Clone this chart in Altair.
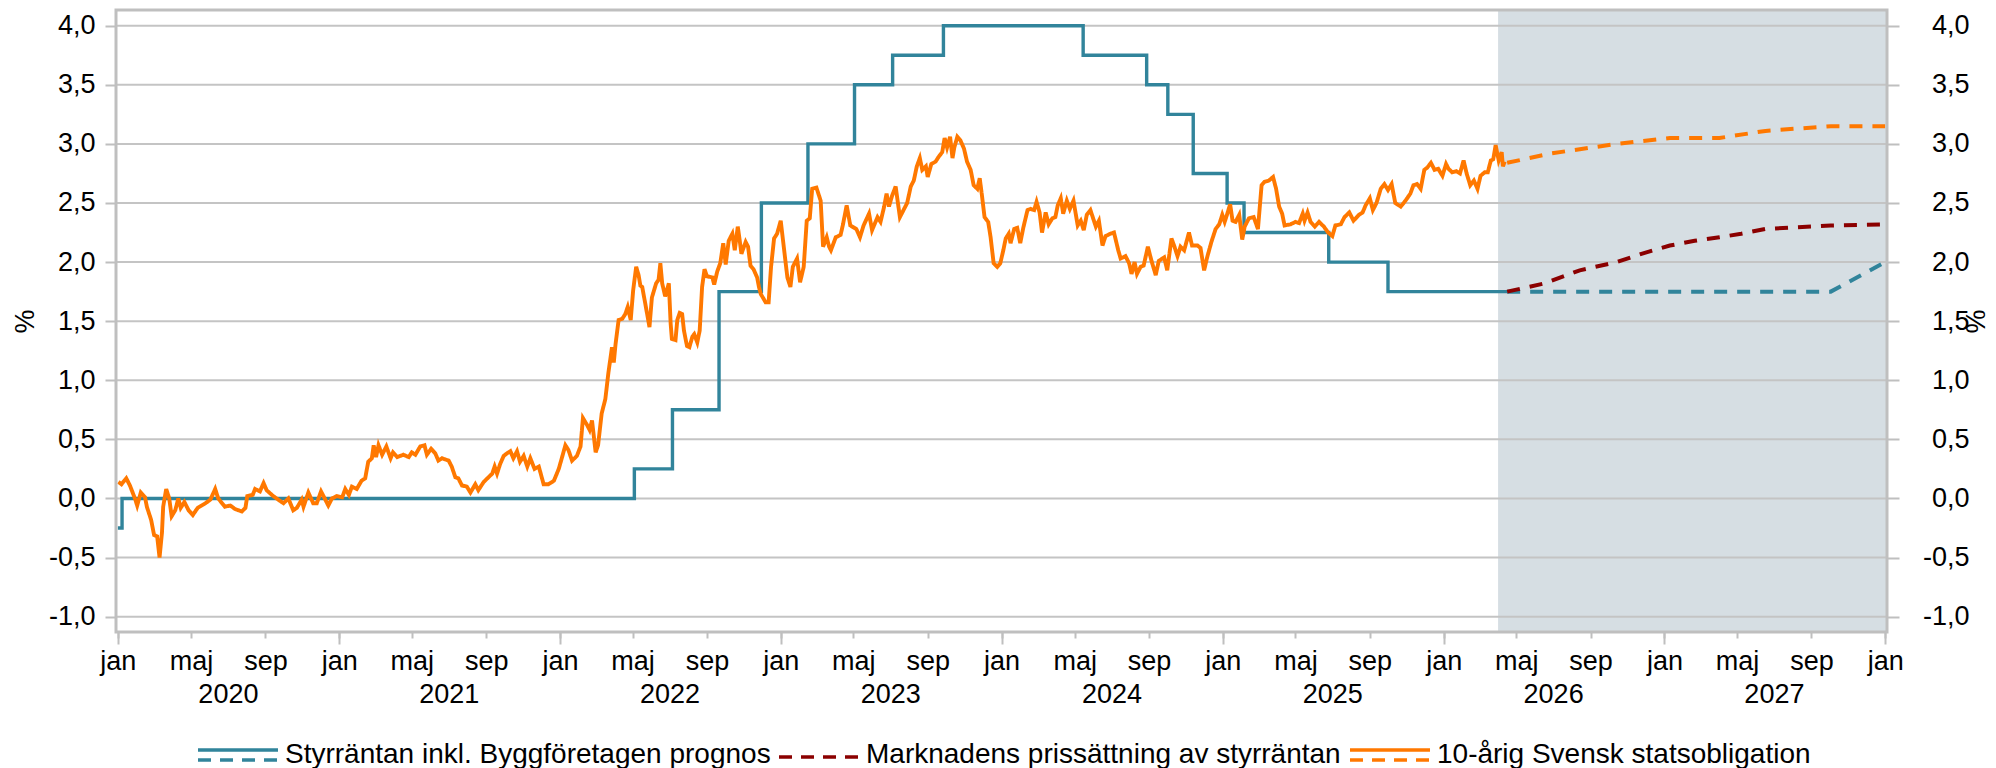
import altair as alt
import pandas as pd

FONT = "Liberation Sans"
FS = 27
LEG_FS = 28
SERIES = ["Styrräntan inkl. Byggföretagen prognos",
          "Marknadens prissättning av styrräntan",
          "10-årig Svensk statsobligation"]
COLORS = ["#31849B", "#8B0000", "#FF7800"]

# Styrränta (historik, trappsteg)
policy_dates = ["2020-01-01", "2020-01-08", "2022-05-04", "2022-07-06", "2022-09-21",
                "2022-11-30", "2023-02-15", "2023-05-03", "2023-07-05", "2023-09-27",
                "2024-05-15", "2024-08-28", "2024-10-02", "2024-11-13", "2025-01-08",
                "2025-02-05", "2025-06-25", "2025-10-01", "2026-04-16"]
policy_values = [-0.25, 0.0, 0.25, 0.75, 1.75, 2.5, 3.0, 3.5, 3.75, 4.0,
                 3.75, 3.5, 3.25, 2.75, 2.5, 2.25, 2.0, 1.75, 1.75]

# 10-årig statsobligation (decimalår, %)
bond_t = [
    2020.004, 2020.019, 2020.039, 2020.057, 2020.080, 2020.090, 2020.105, 2020.125, 2020.133, 2020.151,
    2020.166, 2020.178, 2020.190, 2020.201, 2020.208, 2020.220, 2020.235, 2020.246, 2020.261, 2020.276,
    2020.287, 2020.302, 2020.321, 2020.341, 2020.362, 2020.397, 2020.419, 2020.442, 2020.457, 2020.487,
    2020.510, 2020.533, 2020.563, 2020.578, 2020.588, 2020.613, 2020.623, 2020.646, 2020.661, 2020.676,
    2020.706, 2020.736, 2020.751, 2020.774, 2020.794, 2020.812, 2020.835, 2020.842, 2020.865, 2020.887,
    2020.903, 2020.921, 2020.940, 2020.955, 2020.971, 2020.993,
    2021.016, 2021.031, 2021.046, 2021.061, 2021.084, 2021.106, 2021.121, 2021.136, 2021.152, 2021.159,
    2021.171, 2021.182, 2021.197, 2021.216, 2021.235, 2021.247, 2021.265, 2021.295, 2021.317, 2021.333,
    2021.348, 2021.370, 2021.389, 2021.401, 2021.419, 2021.438, 2021.453, 2021.469, 2021.499, 2021.514,
    2021.529, 2021.544, 2021.559, 2021.582, 2021.597, 2021.620, 2021.634, 2021.657, 2021.680, 2021.695,
    2021.706, 2021.718, 2021.733, 2021.748, 2021.763, 2021.778, 2021.793, 2021.808, 2021.823, 2021.838,
    2021.854, 2021.869, 2021.887, 2021.906, 2021.929, 2021.952, 2021.974, 2021.997,
    2022.012, 2022.027, 2022.042, 2022.058, 2022.080, 2022.095, 2022.107, 2022.125, 2022.137, 2022.148,
    2022.163, 2022.175, 2022.193, 2022.208, 2022.223, 2022.239, 2022.246, 2022.254, 2022.269, 2022.284,
    2022.299, 2022.309, 2022.322, 2022.334, 2022.349, 2022.359, 2022.367, 2022.374, 2022.389, 2022.409,
    2022.420, 2022.439, 2022.450, 2022.457, 2022.465, 2022.480, 2022.495, 2022.503, 2022.510, 2022.525,
    2022.533, 2022.545, 2022.556, 2022.563, 2022.578, 2022.590, 2022.601, 2022.611, 2022.624, 2022.635,
    2022.646, 2022.657, 2022.669, 2022.692, 2022.702, 2022.714, 2022.729, 2022.741, 2022.752, 2022.767,
    2022.782, 2022.793, 2022.808, 2022.817, 2022.823, 2022.842, 2022.853, 2022.865, 2022.880, 2022.895,
    2022.903, 2022.913, 2022.933, 2022.948, 2022.959, 2022.971, 2022.986,
    2023.001, 2023.016, 2023.031, 2023.046, 2023.058, 2023.076, 2023.091, 2023.107, 2023.119, 2023.134,
    2023.144, 2023.164, 2023.182, 2023.194, 2023.209, 2023.220, 2023.230, 2023.250, 2023.273, 2023.285,
    2023.300, 2023.318, 2023.345, 2023.360, 2023.378, 2023.401, 2023.416, 2023.439, 2023.454, 2023.469,
    2023.481, 2023.491, 2023.507, 2023.522, 2023.541, 2023.559, 2023.575, 2023.590, 2023.605, 2023.617,
    2023.632, 2023.643, 2023.658, 2023.668, 2023.683, 2023.703, 2023.718, 2023.733, 2023.744, 2023.756,
    2023.768, 2023.779, 2023.789, 2023.801, 2023.816, 2023.831, 2023.846, 2023.861, 2023.876, 2023.892,
    2023.904, 2023.914, 2023.925, 2023.940, 2023.952, 2023.967, 2023.982, 2023.997,
    2024.009, 2024.020, 2024.035, 2024.043, 2024.058, 2024.073, 2024.085, 2024.100, 2024.118, 2024.133,
    2024.148, 2024.160, 2024.175, 2024.186, 2024.201, 2024.216, 2024.231, 2024.246, 2024.257, 2024.269,
    2024.281, 2024.296, 2024.311, 2024.327, 2024.345, 2024.360, 2024.375, 2024.387, 2024.405, 2024.428,
    2024.443, 2024.458, 2024.473, 2024.495, 2024.511, 2024.529, 2024.541, 2024.563, 2024.578, 2024.589,
    2024.604, 2024.616, 2024.631, 2024.646, 2024.664, 2024.680, 2024.699, 2024.714, 2024.737, 2024.752,
    2024.770, 2024.785, 2024.798, 2024.812, 2024.827, 2024.850, 2024.865, 2024.888, 2024.903, 2024.918,
    2024.933, 2024.951, 2024.971, 2024.986,
    2025.001, 2025.012, 2025.024, 2025.036, 2025.047, 2025.062, 2025.077, 2025.092, 2025.102, 2025.122,
    2025.144, 2025.163, 2025.178, 2025.193, 2025.212, 2025.232, 2025.243, 2025.258, 2025.273, 2025.284,
    2025.311, 2025.333, 2025.348, 2025.364, 2025.374, 2025.386, 2025.401, 2025.419, 2025.439, 2025.462,
    2025.480, 2025.500, 2025.514, 2025.537, 2025.555, 2025.575, 2025.595, 2025.620, 2025.635, 2025.650,
    2025.670, 2025.682, 2025.699, 2025.718, 2025.734, 2025.750, 2025.767, 2025.783, 2025.807, 2025.831,
    2025.851, 2025.867, 2025.883, 2025.900, 2025.916, 2025.928, 2025.945, 2025.961, 2025.977, 2025.996,
    2026.013, 2026.026, 2026.042, 2026.061, 2026.077, 2026.094, 2026.106, 2026.122, 2026.139, 2026.155,
    2026.171, 2026.188, 2026.203, 2026.216, 2026.228, 2026.239, 2026.252, 2026.265, 2026.271, 2026.278,
]
bond_v = [
    0.14, 0.12, 0.17, 0.11, -0.01, -0.06, 0.05, 0.01, -0.07, -0.18,
    -0.31, -0.32, -0.50, -0.29, -0.07, 0.08, 0.00, -0.15, -0.10, 0.00,
    -0.08, -0.03, -0.10, -0.14, -0.08, -0.04, -0.01, 0.08, 0.00, -0.07,
    -0.06, -0.09, -0.11, -0.08, 0.02, 0.03, 0.08, 0.06, 0.13, 0.07,
    0.02, -0.02, -0.04, 0.00, -0.10, -0.08, -0.01, -0.07, 0.05, -0.04,
    -0.04, 0.06, -0.01, -0.06, 0.00, 0.02,
    0.01, 0.08, 0.03, 0.10, 0.08, 0.15, 0.17, 0.31, 0.34, 0.45,
    0.35, 0.45, 0.37, 0.44, 0.34, 0.39, 0.35, 0.37, 0.35, 0.39,
    0.37, 0.44, 0.45, 0.37, 0.42, 0.38, 0.32, 0.34, 0.32, 0.27,
    0.18, 0.17, 0.11, 0.10, 0.05, 0.12, 0.07, 0.14, 0.18, 0.21,
    0.27, 0.21, 0.29, 0.36, 0.38, 0.40, 0.34, 0.40, 0.31, 0.36,
    0.27, 0.34, 0.25, 0.27, 0.12, 0.12, 0.15, 0.25,
    0.34, 0.45, 0.41, 0.32, 0.36, 0.44, 0.68, 0.62, 0.58, 0.66,
    0.39, 0.45, 0.72, 0.84, 1.06, 1.28, 1.15, 1.31, 1.51, 1.52,
    1.56, 1.62, 1.51, 1.76, 1.96, 1.89, 1.80, 1.79, 1.65, 1.45,
    1.70, 1.82, 1.85, 1.99, 1.82, 1.71, 1.82, 1.48, 1.35, 1.34,
    1.51, 1.57, 1.56, 1.42, 1.29, 1.28, 1.37, 1.39, 1.32, 1.42,
    1.79, 1.94, 1.88, 1.87, 1.81, 1.92, 1.99, 2.16, 1.98, 2.18,
    2.24, 2.10, 2.30, 2.19, 2.07, 2.17, 2.13, 1.97, 1.94, 1.87,
    1.79, 1.73, 1.66, 1.66, 1.96, 2.20, 2.24,
    2.35, 2.13, 1.87, 1.79, 1.96, 2.03, 1.83, 1.96, 2.35, 2.37,
    2.62, 2.63, 2.52, 2.13, 2.21, 2.13, 2.10, 2.21, 2.23, 2.32,
    2.48, 2.31, 2.28, 2.21, 2.31, 2.41, 2.27, 2.38, 2.34, 2.47,
    2.58, 2.47, 2.56, 2.64, 2.38, 2.44, 2.50, 2.64, 2.69, 2.81,
    2.88, 2.78, 2.81, 2.72, 2.83, 2.85, 2.89, 2.93, 3.05, 2.97,
    3.06, 2.88, 2.97, 3.06, 3.03, 2.96, 2.85, 2.78, 2.65, 2.62,
    2.71, 2.55, 2.38, 2.34, 2.21, 1.99, 1.96, 1.99,
    2.10, 2.20, 2.24, 2.16, 2.28, 2.29, 2.16, 2.29, 2.44, 2.45,
    2.44, 2.51, 2.42, 2.25, 2.42, 2.32, 2.37, 2.38, 2.48, 2.54,
    2.41, 2.52, 2.45, 2.52, 2.31, 2.35, 2.27, 2.40, 2.44, 2.30,
    2.35, 2.14, 2.22, 2.24, 2.25, 2.10, 2.03, 2.05, 1.99, 1.90,
    2.00, 1.90, 1.96, 1.97, 2.13, 2.01, 1.89, 2.01, 2.04, 1.93,
    2.20, 2.13, 2.05, 2.13, 2.10, 2.25, 2.14, 2.14, 2.12, 1.93,
    2.04, 2.17, 2.28, 2.32,
    2.40, 2.34, 2.42, 2.49, 2.35, 2.34, 2.40, 2.19, 2.30, 2.37,
    2.38, 2.28, 2.65, 2.68, 2.69, 2.72, 2.62, 2.47, 2.41, 2.31,
    2.32, 2.34, 2.33, 2.41, 2.35, 2.42, 2.34, 2.30, 2.34, 2.30,
    2.25, 2.22, 2.31, 2.32, 2.38, 2.42, 2.35, 2.40, 2.42, 2.48,
    2.54, 2.44, 2.50, 2.62, 2.66, 2.61, 2.66, 2.50, 2.47, 2.52,
    2.58, 2.65, 2.66, 2.62, 2.78, 2.80, 2.84, 2.78, 2.79, 2.73,
    2.83, 2.79, 2.76, 2.77, 2.75, 2.86, 2.75, 2.65, 2.69, 2.62,
    2.73, 2.76, 2.76, 2.86, 2.87, 2.99, 2.86, 2.93, 2.81, 2.85,
]
assert len(bond_t) == len(bond_v)

# Prognoser (decimalår, %)
fc_policy_t = [2026.29, 2027.755, 2028.0]
fc_policy_v = [1.75, 1.75, 2.00]
fc_market_t = [2026.29, 2026.46, 2026.62, 2026.785, 2026.898, 2027.026, 2027.14, 2027.252,
               2027.35, 2027.46, 2027.755, 2028.0]
fc_market_v = [1.75, 1.82, 1.93, 2.00, 2.07, 2.14, 2.18, 2.21, 2.24, 2.28, 2.31, 2.32]
fc_bond_t = [2026.29, 2026.49, 2026.785, 2027.026, 2027.252, 2027.46, 2027.755, 2028.0]
fc_bond_v = [2.84, 2.92, 3.00, 3.05, 3.05, 3.11, 3.15, 3.15]

y_ticks = [-1.0, -0.5, 0.0, 0.5, 1.0, 1.5, 2.0, 2.5, 3.0, 3.5, 4.0]
Y_MIN, Y_MAX = -1.13, 4.133
X_START, X_END = "2019-12-29", "2028-01-04"
shade_start, shade_end = "2026-04-01", X_END
month_ticks = [f"{y}-{m:02d}-01" for y in range(2020, 2028) for m in (1, 5, 9)] + ["2028-01-01"]
jan_ticks = [f"{y}-01-01" for y in range(2020, 2029)]
year_label_pos = [f"{y}-07-01" for y in range(2020, 2028)]


def ymd(t):
    return (pd.Timestamp("2020-01-01") + pd.Timedelta(days=(t - 2020.0) * 365.25)).strftime("%Y-%m-%d")


def dt(s):
    y, m, d = (int(p) for p in s.split("-"))
    return alt.DateTime(year=y, month=m, date=d, utc=True)


GRAY = "#BFBFBF"
xscale = alt.Scale(type="utc", domain=[dt(X_START), dt(X_END)])
yscale = alt.Scale(domain=[Y_MIN, Y_MAX], nice=False, zero=False)

BOTH = "M-1,-0.125H1M-1,0.125H-0.675M-0.45,0.125H-0.125M0.1,0.125H0.425M0.65,0.125H0.975"
DASHED = "M-1,0.05H-0.675M-0.45,0.05H-0.125M0.1,0.05H0.425M0.65,0.05H0.975"
LEG_Y = 703


def make_legend(x, shape, stroke_color):
    return alt.Legend(
        title=None, orient="none", legendX=x, legendY=LEG_Y, direction="horizontal",
        labelFont=FONT, labelFontSize=LEG_FS, labelColor="black", labelLimit=0,
        labelOffset=5, symbolSize=6400, symbolStrokeWidth=3.5, symbolType=shape,
        symbolStrokeColor=stroke_color, symbolFillColor="transparent",
    )


label_common = dict(labelFont=FONT, labelFontSize=FS, labelColor="black",
                    domain=False, grid=False, tickColor=GRAY, tickWidth=2)

month_axis = alt.Axis(orient="bottom", values=[dt(s) for s in month_ticks],
                      labelExpr="['jan','feb','mar','apr','maj','jun','jul','aug','sep','okt','nov','dec'][utcmonth(datum.value)]",
                      tickSize=6, labelPadding=31, labelBaseline="alphabetic",
                      labelFlush=False, labelOverlap=False, title=None, **label_common)
jan_axis = alt.Axis(orient="bottom", values=[dt(s) for s in jan_ticks], tickSize=12,
                    labels=False, title=None, **label_common)
year_axis = alt.Axis(orient="bottom", values=[dt(s) for s in year_label_pos], ticks=False,
                     labelExpr="utcFormat(datum.value, '%Y')", labelPadding=70,
                     labelBaseline="alphabetic", labelFlush=False, labelOverlap=False,
                     title=None, **label_common)

ylab = "(datum.value < 0 ? '-' : '') + replace(format(abs(datum.value), '.1f'), '.', ',')"
left_axis = alt.Axis(orient="left", values=y_ticks, labelExpr=ylab, tickSize=11, labelPadding=10,
                     title="%", titleFont=FONT, titleFontSize=FS, titleFontWeight="normal",
                     titleColor="black", titlePadding=9, **label_common)
right_axis = alt.Axis(orient="right", values=y_ticks, labelExpr=ylab, tickSize=12, labelPadding=70,
                      labelAlign="right", title="%", titleFont=FONT, titleFontSize=FS,
                      titleFontWeight="normal", titleColor="black", titleAngle=90,
                      titleBaseline="alphabetic", titleAlign="center", titleX=78, titleY=311,
                      **label_common)

policy_df = pd.DataFrame({"date": policy_dates, "value": policy_values, "serie": SERIES[0]})
bond_df = pd.DataFrame({"date": [ymd(t) for t in bond_t], "value": bond_v, "serie": SERIES[2]})
fc_policy_df = pd.DataFrame({"date": [ymd(t) for t in fc_policy_t], "value": fc_policy_v, "serie": SERIES[0]})
fc_market_df = pd.DataFrame({"date": [ymd(t) for t in fc_market_t], "value": fc_market_v, "serie": SERIES[1]})
fc_bond_df = pd.DataFrame({"date": [ymd(t) for t in fc_bond_t], "value": fc_bond_v, "serie": SERIES[2]})
shade_df = pd.DataFrame({"x0": [shade_start], "x1": [shade_end], "y0": [Y_MIN], "y1": [Y_MAX]})
frame_df = pd.DataFrame({"x0": [X_START], "x1": [X_END], "y0": [Y_MIN], "y1": [Y_MAX]})
grid_df = pd.DataFrame({"v": y_ticks})

shade = alt.Chart(shade_df).mark_rect(color="#D6DEE3").encode(
    x=alt.X("x0:T", scale=xscale, axis=month_axis), x2="x1:T",
    y=alt.Y("y0:Q", scale=yscale, axis=None), y2="y1:Q")

grid = alt.Chart(grid_df).mark_rule(color="#C4C4C4", strokeWidth=2).encode(
    y=alt.Y("v:Q", scale=yscale, axis=left_axis))


def xy(xaxis, yaxis):
    return dict(x=alt.X("date:T", scale=xscale, axis=xaxis),
                y=alt.Y("value:Q", scale=yscale, axis=yaxis))


DASH = [13, 10]
policy = alt.Chart(policy_df).mark_line(interpolate="step-after", strokeWidth=3.4).encode(
    color=alt.Color("serie:N", scale=alt.Scale(domain=[SERIES[0]], range=[COLORS[0]]),
                    legend=make_legend(80, BOTH, COLORS[0])),
    **xy(jan_axis, right_axis))
fc_policy = alt.Chart(fc_policy_df).mark_line(color=COLORS[0], strokeDash=DASH, strokeWidth=4).encode(
    **xy(year_axis, None))
fc_market = alt.Chart(fc_market_df).mark_line(strokeDash=DASH, strokeWidth=4).encode(
    stroke=alt.Stroke("serie:N", scale=alt.Scale(domain=[SERIES[1]], range=[COLORS[1]]),
                      legend=make_legend(661, DASHED, COLORS[1])),
    **xy(None, None))
bond = alt.Chart(bond_df).mark_line(color=COLORS[2], strokeWidth=3.9).encode(
    strokeDash=alt.StrokeDash("serie:N", scale=alt.Scale(domain=[SERIES[2]], range=[[1, 0]]),
                              legend=make_legend(1232, BOTH, COLORS[2])),
    **xy(None, None))
fc_bond = alt.Chart(fc_bond_df).mark_line(color=COLORS[2], strokeDash=DASH, strokeWidth=4).encode(
    **xy(None, None))

frame = alt.Chart(frame_df).mark_rect(filled=False, color=GRAY, strokeWidth=3).encode(
    x=alt.X("x0:T", scale=xscale, axis=None), x2="x1:T",
    y=alt.Y("y0:Q", scale=yscale, axis=None), y2="y1:Q")

chart = alt.layer(shade, grid, policy, fc_policy, fc_market, bond, fc_bond, frame).resolve_scale(
    x="shared", y="shared"
).resolve_axis(x="independent", y="independent").properties(
    width=1771, height=622,
    padding={"left": 108, "top": 2, "right": 101, "bottom": 140},
    autosize=alt.AutoSizeParams(type="none"),
    background="white",
).configure(font=FONT).configure_view(stroke=None)

chart.save("out.html", embed_options={"renderer": "svg", "actions": False})
